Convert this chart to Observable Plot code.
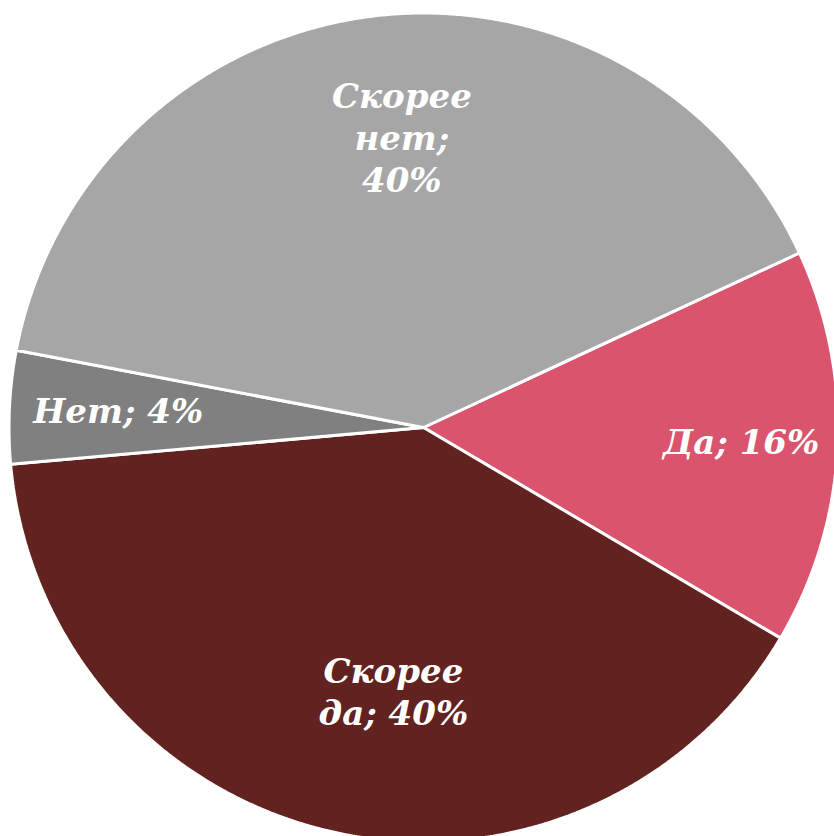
<!DOCTYPE html>
<html>
<head>
<meta charset="utf-8">
<script src="https://cdn.jsdelivr.net/npm/d3@7"></script>
<script src="https://cdn.jsdelivr.net/npm/@observablehq/plot@0.6"></script>
<style>
  html, body { margin: 0; padding: 0; background: #fff; }
  #chart { width: 834px; height: 836px; overflow: hidden; }
</style>
</head>
<body>
<div id="chart"></div>
<script>
// Data (slice shares; labels as printed)
const categories = ["Да", "Скорее да", "Нет", "Скорее нет"];
const shares = [15.4, 40.1, 4.4, 40.1];
const labels = ["Да; 16%", "Скорее\nда; 40%", "Нет; 4%", "Скорее\nнет;\n40%"];
const colors = ["#D9546C", "#612220", "#808080", "#A6A6A6"];

// Layout
const W = 834, H = 836;
const cx = 423, cy = 427, R = 414.5;
const startDeg = 65.1;
const labelR = [0.77, 0.65, 0.74, 0.70];
const labelDx = [0, 29, 0, 14];
const labelDy = [-3, 1, -3, -4];

const pie = d3.pie().sort(null).value(d => d)
  .startAngle(startDeg * Math.PI / 180)
  .endAngle((startDeg + 360) * Math.PI / 180);
const arcs = pie(shares);

// Build polygon points (unit radius, y up)
const pts = [];
arcs.forEach((a, i) => {
  const n = Math.max(8, Math.ceil((a.endAngle - a.startAngle) * 180));
  pts.push({k: categories[i], x: 0, y: 0});
  for (let j = 0; j <= n; j++) {
    const t = a.startAngle + (a.endAngle - a.startAngle) * j / n;
    pts.push({k: categories[i], x: Math.sin(t), y: Math.cos(t)});
  }
  pts.push({k: categories[i], x: 0, y: 0});
});

const labelData = arcs.map((a, i) => {
  const m = (a.startAngle + a.endAngle) / 2;
  return {k: categories[i], text: labels[i], x: labelR[i] * 413 / R * Math.sin(m), y: labelR[i] * 413 / R * Math.cos(m), dx: labelDx[i], dy: labelDy[i]};
});

const chart = Plot.plot({
  width: W,
  height: H,
  margin: 0,
  x: {domain: [-cx / R, (W - cx) / R], range: [0, W], axis: null},
  y: {domain: [-(H - cy) / R, cy / R], range: [H, 0], axis: null},
  color: {domain: categories, range: colors},
  style: {background: "white"},
  marks: [
    Plot.line(pts, {x: "x", y: "y", z: "k", fill: "k", stroke: "white", strokeWidth: 3, strokeLinejoin: "miter", curve: "linear"}),
    ...labelData.map(d => Plot.text([d], {
      x: "x", y: "y", text: "text", dx: d.dx, dy: d.dy,
      fill: "white", fontSize: 34, fontWeight: "bold", fontStyle: "italic",
      fontFamily: "'DejaVu Serif', serif", lineHeight: 1.235, textAnchor: "middle"
    }))
  ]
});
document.getElementById("chart").appendChild(chart);
</script>
</body>
</html>
